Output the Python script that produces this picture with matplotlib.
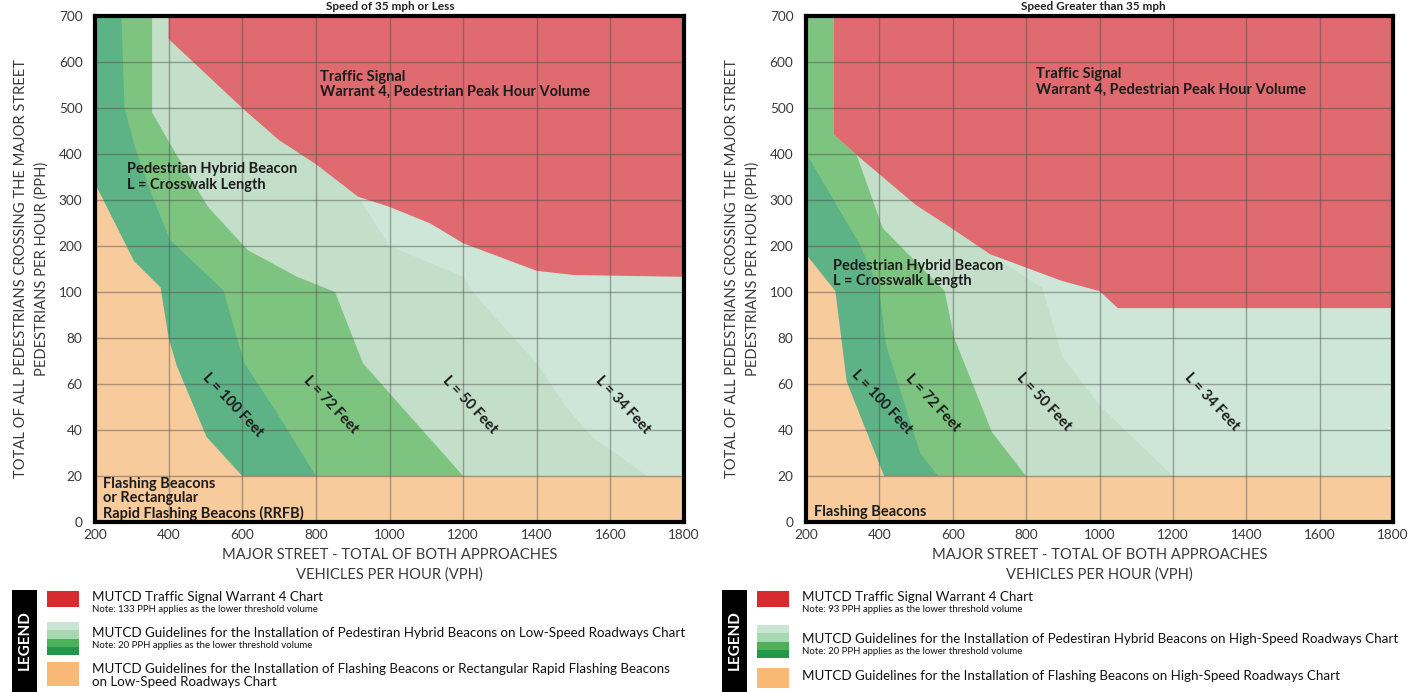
import numpy as np
import matplotlib
matplotlib.use('Agg')
import matplotlib.pyplot as plt
from matplotlib.patches import Rectangle

plt.rcParams['font.family'] = ['Lato', 'DejaVu Sans']

# ---- data (x = vehicles per hour, y = pedestrians per hour)
x_ticks = [200, 400, 600, 800, 1000, 1200, 1400, 1600, 1800]
y_ticks = [0, 20, 40, 60, 80, 100, 200, 300, 400, 500, 600, 700]

# low-speed chart (left)
lo_l100_x = [200, 200, 306, 378, 400, 422, 503, 600]
lo_l100_y = [700, 336, 167, 110, 80, 68, 37, 20]
lo_l72_x = [272, 280, 311, 360, 404, 548, 606, 700, 800]
lo_l72_y = [700, 500, 409, 300, 213, 104, 69, 46, 20]
lo_l50_x = [355, 355, 420, 507, 615, 749, 852, 928, 1200]
lo_l50_y = [700, 490, 400, 285, 191, 133, 100, 69, 20]
lo_l34_x = [880, 880, 920, 1000, 1200, 1236, 1400, 1480, 1550, 1700]
lo_l34_y = [700, 345, 300, 200, 133, 98, 69, 50, 37, 20]
lo_sig_x = [400, 400, 600, 700, 800, 915, 1000, 1111, 1200, 1400, 1500, 1800]
lo_sig_y = [700, 650, 500, 430, 378, 307, 285, 249, 206, 146, 137, 133]

# high-speed chart (right)
hi_l100_x = [200, 200, 280, 311, 413]
hi_l100_y = [700, 182, 102, 61, 20]
hi_l72_x = [200, 200, 347, 400, 418, 511, 560]
hi_l72_y = [700, 402, 203, 102, 77, 30, 20]
hi_l50_x = [276, 276, 338, 409, 578, 604, 707, 800]
hi_l50_y = [700, 442, 398, 239, 102, 80, 39, 20]
hi_l34_x = [690, 690, 702, 844, 898, 1004, 1200]
hi_l34_y = [700, 300, 182, 109, 72, 50, 20]
hi_sig_x = [276, 276, 338, 498, 596, 702, 898, 1000, 1050, 1800]
hi_sig_y = [700, 442, 398, 290, 239, 182, 124, 102, 93, 93]

ped_min = 20  # lower threshold for the beacons

c_orange = '#F8CB9C'
c_dark = '#5DB386'
c_mid = '#7DC480'
c_light = '#C4DFC9'
c_lightest = '#CDE6D7'
c_red = '#DF6A6F'


def fwd(y):
    y = np.asarray(y, dtype=float)
    return np.where(y <= 100, y / 20.0, 5 + (y - 100) / 100.0)


def inv(p):
    p = np.asarray(p, dtype=float)
    return np.where(p <= 5, p * 20.0, 100 + (p - 5) * 100.0)


def region(ax, xs, ys, color, close_y):
    px = list(xs) + [1800, 1800]
    py = list(ys) + [close_y, 700]
    ax.fill(px, py, color=color, lw=0, zorder=1)


def panel(ax, curves, sig):
    ax.set_yscale('function', functions=(fwd, inv))
    ax.set_xlim(200, 1800)
    ax.set_ylim(0, 700)
    ax.fill([200, 1800, 1800, 200], [0, 0, 700, 700], color=c_orange, lw=0, zorder=0.5)
    for (xs, ys), col in zip(curves, [c_dark, c_mid, c_light, c_lightest]):
        region(ax, xs, ys, col, ped_min)
    region(ax, sig[0], sig[1], c_red, sig[1][-1])
    ax.set_xticks(x_ticks)
    ax.set_yticks(y_ticks)
    ax.set_yticklabels([str(v) for v in y_ticks])
    ax.minorticks_off()
    ax.tick_params(length=0, labelsize=9.8, labelcolor='#3a3a3a')
    ax.tick_params(axis='y', pad=9)
    ax.tick_params(axis='x', pad=5)
    ax.grid(True, color='#4a4a4a', alpha=0.45, lw=1.0)
    ax.set_axisbelow(False)
    for s in ax.spines.values():
        s.set_linewidth(3)
        s.set_color('black')
        s.set_zorder(5)
    ax.set_xlabel('MAJOR STREET - TOTAL OF BOTH APPROACHES\nVEHICLES PER HOUR (VPH)',
                  fontsize=10.6, color='#3a3a3a', labelpad=5, linespacing=1.45)
    ax.set_ylabel('TOTAL OF ALL PEDESTRIANS CROSSING THE MAJOR STREET\nPEDESTRIANS PER HOUR (PPH)',
                  fontsize=10.6, color='#3a3a3a', labelpad=7.5, linespacing=1.55)


fig = plt.figure(figsize=(14.18, 6.92), dpi=100)
W, H = 1418.0, 692.0

axl = fig.add_axes([95 / W, 1 - 522 / H, 589 / W, 506 / H])
axr = fig.add_axes([806 / W, 1 - 522 / H, 587 / W, 506 / H])

panel(axl, [(lo_l100_x, lo_l100_y), (lo_l72_x, lo_l72_y), (lo_l50_x, lo_l50_y), (lo_l34_x, lo_l34_y)],
      (lo_sig_x, lo_sig_y))
panel(axr, [(hi_l100_x, hi_l100_y), (hi_l72_x, hi_l72_y), (hi_l50_x, hi_l50_y), (hi_l34_x, hi_l34_y)],
      (hi_sig_x, hi_sig_y))

# chart titles squeezed into the strip above the plots
fig.text(390 / W, 1 - 1 / H, 'Speed of 35 mph or Less', ha='center', va='top',
         fontsize=8.5, fontweight='bold', color='#222222')
fig.text(1093 / W, 1 - 1 / H, 'Speed Greater than 35 mph', ha='center', va='top',
         fontsize=8.5, fontweight='bold', color='#222222')

lab = dict(fontsize=10.5, fontweight='bold', color='#1c1c1c', zorder=4)
rot = dict(rotation=-47, rotation_mode='anchor', ha='center', va='center')

# left annotations
axl.text(810, 552, 'Traffic Signal\nWarrant 4, Pedestrian Peak Hour Volume', ha='left', va='center',
         linespacing=1.1, **lab)
axl.text(286, 350, 'Pedestrian Hybrid Beacon\nL = Crosswalk Length', ha='left', va='center',
         linespacing=1.1, **lab)
axl.text(221, 10, 'Flashing Beacons\nor Rectangular\nRapid Flashing Beacons (RRFB)', ha='left', va='center',
         linespacing=1.05, **lab)
for xx, t in [(575, 'L = 100 Feet'), (839, 'L = 72 Feet'), (1219, 'L = 50 Feet'), (1633, 'L = 34 Feet')]:
    axl.text(xx, 51, t, **rot, **lab)

# right annotations
axr.text(827, 557, 'Traffic Signal\nWarrant 4, Pedestrian Peak Hour Volume', ha='left', va='center',
         linespacing=1.1, **lab)
axr.text(273, 141, 'Pedestrian Hybrid Beacon\nL = Crosswalk Length', ha='left', va='center',
         linespacing=1.1, **lab)
axr.text(222, 4.5, 'Flashing Beacons', ha='left', va='center', **lab)
for xx, t in [(406, 'L = 100 Feet'), (545, 'L = 72 Feet'), (849, 'L = 50 Feet'), (1306, 'L = 34 Feet')]:
    axr.text(xx, 52, t, **rot, **lab)


# ---- legends (pixel positions on the figure)
def rect(x0, y0, x1, y1, color):
    fig.patches.append(Rectangle((x0 / W, 1 - y1 / H), (x1 - x0) / W, (y1 - y0) / H,
                                 transform=fig.transFigure, color=color, lw=0))


def ftext(x, y, s, **kw):
    fig.text(x / W, 1 - y / H, s, va='center', **kw)


green_strips = ['#C8E6D2', '#A6D8B2', '#4DB15A', '#22994A']


def legend(x0, rows, texts):
    rect(x0, 590, x0 + 25, 692, 'black')
    ftext(x0 + 12.5, 640, 'LEGEND', ha='center', rotation=90, color='white',
          fontsize=11, fontweight='bold')
    sx = x0 + 35
    tx = x0 + 80
    (ry0, ry1), (gy0, gy1), (oy0, oy1) = rows
    rect(sx, ry0, sx + 32, ry1, '#D62C30')
    step = (gy1 - gy0) / 4.0
    for i, c in enumerate(green_strips):
        rect(sx, gy0 + i * step, sx + 32, gy0 + (i + 1) * step, c)
    rect(sx, oy0, sx + 32, oy1, '#F9B873')
    for y, s, size in texts:
        ftext(tx, y, s, ha='left', fontsize=size, color='#111111')


big, small = 9.6, 6.9
legend(12, [(591, 607), (622, 655), (662, 686)],
       [(597, 'MUTCD Traffic Signal Warrant 4 Chart', big),
        (609, 'Note: 133 PPH applies as the lower threshold volume', small),
        (633, 'MUTCD Guidelines for the Installation of Pedestiran Hybrid Beacons on Low-Speed Roadways Chart', big),
        (645, 'Note: 20 PPH applies as the lower threshold volume', small),
        (669, 'MUTCD Guidelines for the Installation of Flashing Beacons or Rectangular Rapid Flashing Beacons', big),
        (682, 'on Low-Speed Roadways Chart', big)])
legend(722, [(591, 607), (625, 658), (668, 688)],
       [(597, 'MUTCD Traffic Signal Warrant 4 Chart', big),
        (610, 'Note: 93 PPH applies as the lower threshold volume', small),
        (639, 'MUTCD Guidelines for the Installation of Pedestiran Hybrid Beacons on High-Speed Roadways Chart', big),
        (651, 'Note: 20 PPH applies as the lower threshold volume', small),
        (676, 'MUTCD Guidelines for the Installation of Flashing Beacons on High-Speed Roadways Chart', big)])

fig.savefig('out.png', dpi=100, facecolor='white')
